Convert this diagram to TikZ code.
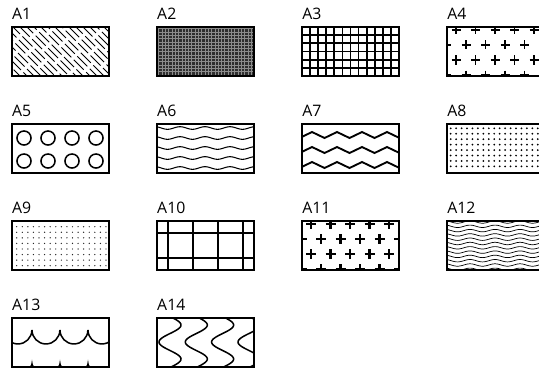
\documentclass[tikz,border=0pt]{standalone}
\usepackage{fontspec}
\setsansfont{Open Sans}
\usetikzlibrary{positioning, backgrounds}

\begin{document}
\begin{tikzpicture}[
    x=0.03cm, y=-0.03cm,
    node distance=1.44cm,
    every node/.style={font=\sffamily\fontsize{13.5}{15}\selectfont},
    swatch/.style={rectangle, draw=black, line width=1.2pt, minimum width=2.91cm, minimum height=1.47cm, inner sep=0pt, outer sep=0pt},
    tag/.style={inner sep=0pt},
    parquet/.style={line width=0.9pt},
    mesh/.style={white!55!black, line width=0.35pt},
    gridline/.style={line width=1.5pt},
    cross/.style={line width=1.2pt},
    crossbold/.style={line width=2.1pt},
    ring/.style={line width=1.3pt},
    wave/.style={line width=0.9pt},
    thinwave/.style={line width=0.6pt},
    zigzag/.style={line width=1.6pt, line join=miter},
    curl/.style={line width=1.3pt}
]
\useasboundingbox (0,0) rectangle (539,368);

\node[swatch, anchor=north west] (boxA1) at (12,27) {};
\node[swatch, right=of boxA1] (boxA2) {};
\node[swatch, right=of boxA2] (boxA3) {};
\node[swatch, right=of boxA3] (boxA4) {};
\node[swatch, below=of boxA1] (boxA5) {};
\node[swatch, right=of boxA5] (boxA6) {};
\node[swatch, right=of boxA6] (boxA7) {};
\node[swatch, right=of boxA7] (boxA8) {};
\node[swatch, below=of boxA5] (boxA9) {};
\node[swatch, right=of boxA9] (boxA10) {};
\node[swatch, right=of boxA10] (boxA11) {};
\node[swatch, right=of boxA11] (boxA12) {};
\node[swatch, below=of boxA9] (boxA13) {};
\node[swatch, right=of boxA13] (boxA14) {};

\foreach \n in {1,...,14}
  \node[tag, above=6pt of boxA\n.north west, anchor=south west] (lblA\n) {A\n};

\begin{pgfonlayer}{background}

\begin{scope}[shift={(boxA1.north west)}]
\clip (0,0) rectangle (97,49);
\foreach \i in {0,...,22} {
  \pgfmathsetmacro\ph{\i*4.2+mod(floor(\i/3),2)*7.5}
  \draw[parquet, dash pattern=on 12pt off 3pt, dash phase=\ph pt] (7*\i-55,0) -- ++(60,60);
}
\end{scope}

\begin{scope}[shift={(boxA2.north west)}]
\fill[black!82] (0,0) rectangle (97,49);
\foreach \k in {0,...,29} \draw[mesh] (1.6+3.3*\k,0) -- ++(0,49);
\foreach \k in {0,...,14} \draw[mesh] (0,1.6+3.3*\k) -- ++(97,0);
\end{scope}

\begin{scope}[shift={(boxA3.north west)}]
\foreach \k in {0,...,12} \draw[gridline] (97/12*\k,0) -- ++(0,49);
\foreach \k in {0,...,6} \draw[gridline] (0,49/6*\k) -- ++(97,0);
\end{scope}

\begin{scope}[shift={(boxA4.north west)}]
\clip (0,0) rectangle (97,49);
\foreach \r in {3,33} \foreach \c in {0,...,4}
  \draw[cross] (4.5+19.5*\c,\r) -- ++(9,0) (9+19.5*\c,\r-4.5) -- ++(0,9);
\foreach \r in {18,48} \foreach \c in {0,...,5}
  \draw[cross] (-5+19.5*\c,\r) -- ++(9,0) (-0.5+19.5*\c,\r-4.5) -- ++(0,9);
\end{scope}

\begin{scope}[shift={(boxA5.north west)}]
\foreach \c in {12,36,60,84} \foreach \r in {14,37}
  \draw[ring] (\c,\r) circle (6pt);
\end{scope}

\begin{scope}[shift={(boxA6.north west)}]
\clip (0,0) rectangle (97,49);
\foreach \r in {4,14,24,34,44}
  \draw[wave] plot[domain=0:97, samples=80, smooth] (\x, {\r-1.3*sin((\x-16.75)*14.4)});
\end{scope}

\begin{scope}[shift={(boxA7.north west)}]
\clip (0,0) rectangle (97,49);
\foreach \r in {11,26,41}
  \draw[zigzag] (-2.5,\r+3) \foreach \k in {0,...,3} {-- (10+25*\k,\r-3) -- (22.5+25*\k,\r+3)};
\end{scope}

\begin{scope}[shift={(boxA8.north west)}]
\foreach \c in {0,...,17} \foreach \r in {0,...,7}
  \fill (3.7+5.44*\c,4.3+5.44*\r) circle (0.85pt);
\end{scope}

\begin{scope}[shift={(boxA9.north west)}]
\foreach \c in {0,...,16} \foreach \r in {0,...,7}
  \fill[black!85] (4.7+5.58*\c,5.7+5.57*\r) circle (0.6pt);
\end{scope}

\begin{scope}[shift={(boxA10.north west)}]
\foreach \c in {11,36,61,86} \draw[gridline] (\c,0) -- ++(0,49);
\foreach \r in {12,37} \draw[gridline] (0,\r) -- ++(97,0);
\end{scope}

\begin{scope}[shift={(boxA11.north west)}]
\clip (0,0) rectangle (97,49);
\foreach \r in {3,33} \foreach \c in {0,...,4}
  \draw[crossbold] (4+19.5*\c,\r) -- ++(10,0) (9+19.5*\c,\r-5) -- ++(0,10);
\foreach \r in {18,48} \foreach \c in {0,...,5}
  \draw[crossbold] (-5.5+19.5*\c,\r) -- ++(10,0) (-0.5+19.5*\c,\r-5) -- ++(0,10);
\end{scope}

\begin{scope}[shift={(boxA12.north west)}]
\clip (0,0) rectangle (97,49);
\foreach \r in {0,...,11}
  \draw[thinwave] plot[domain=0:97, samples=80, smooth] (\x, {1+4.3*\r-1.2*sin((\x-16.75)*14.4)});
\end{scope}

\begin{scope}[shift={(boxA13.north west)}]
\clip (0,0) rectangle (97,49);
\foreach \c in {6,34,62,90}
  \draw[curl] (\c-14,12) arc[start angle=180, end angle=360, radius=11.9pt];
\foreach \c in {20,48,76}
  \fill (\c-3.2,49) .. controls (\c-1,48) .. (\c,41.5) .. controls (\c+1,48) .. (\c+3.2,49) -- cycle;
\end{scope}

\begin{scope}[shift={(boxA14.north west)}]
\clip (0,0) rectangle (97,49);
\foreach \c in {13,39.3,65.6,92}
  \draw[curl] plot[domain=0:49, samples=60, smooth] ({\c-11*cos((\x-24)*10.59)}, \x);
\end{scope}

\end{pgfonlayer}

\end{tikzpicture}
\end{document}
